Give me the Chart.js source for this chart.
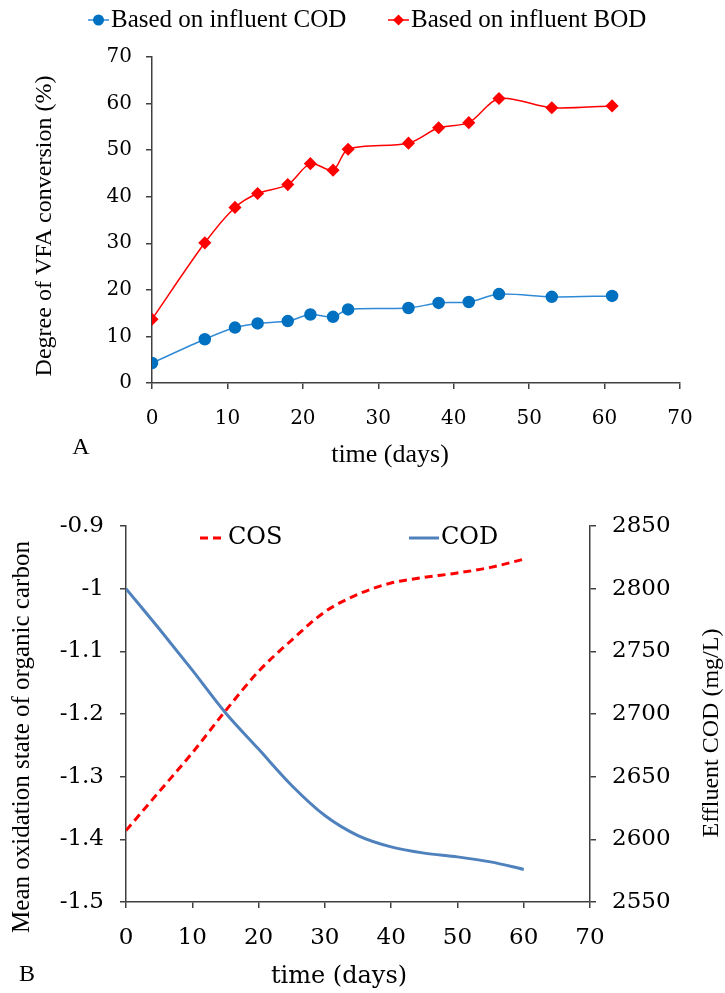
<!DOCTYPE html>
<html>
<head>
<meta charset="utf-8">
<script src="https://cdn.jsdelivr.net/npm/chart.js@4.4.1/dist/chart.umd.min.js"></script>
<style>
  body { margin: 0; background: #fff; }
  #wrap { position: relative; width: 725px; height: 993px; }
  canvas { position: absolute; left: 0; }
  #chartA { top: 0; }
  #chartB { top: 480px; }
</style>
</head>
<body>
<div id="wrap">
  <canvas id="chartA" width="725" height="480"></canvas>
  <canvas id="chartB" width="725" height="513"></canvas>
</div>
<script>
// panel A data
var daysA = [0, 7, 11, 14, 18, 21, 24, 26, 34, 38, 42, 46, 53, 61];
var convCOD = [4.3, 9.4, 11.9, 12.8, 13.3, 14.7, 14.2, 15.8, 16.1, 17.2, 17.4, 19.1, 18.5, 18.7];
var convBOD = [13.7, 30.1, 37.7, 40.7, 42.6, 47.1, 45.7, 50.2, 51.5, 54.8, 55.9, 61.1, 59.1, 59.5];

// panel B data
var daysB = [0, 5, 10, 15, 20, 25, 30, 35, 40, 45, 50, 55, 60];
var cos = [-1.386, -1.324, -1.262, -1.195, -1.132, -1.082, -1.037, -1.009, -0.991, -0.982, -0.975, -0.966, -0.953];
var effCOD = [2800, 2768, 2735, 2701, 2672, 2643, 2619, 2603, 2594, 2589, 2586, 2582, 2576];

var axisColor = "#404040";
var serif = "'Liberation Serif', serif";
var numFont = "'DejaVu Serif', serif";

function pts(xs, ys) {
  return xs.map(function (x, i) { return { x: x, y: ys[i] }; });
}

// draws legend entries and free text (titles, panel letters)
var overlay = {
  id: "overlay",
  afterDraw: function (chart, args, opts) {
    var ctx = chart.ctx;
    ctx.save();
    ctx.textBaseline = "middle";
    (opts.legend || []).forEach(function (item, i) {
      var ds = chart.data.datasets[i];
      ctx.strokeStyle = ds.borderColor;
      ctx.lineWidth = ds.borderWidth;
      ctx.setLineDash(ds.borderDash || []);
      ctx.beginPath();
      ctx.moveTo(item.x, item.y);
      ctx.lineTo(item.x + item.len, item.y);
      ctx.stroke();
      ctx.setLineDash([]);
      var cx = item.x + item.len / 2;
      ctx.fillStyle = ds.pointBackgroundColor;
      if (ds.pointStyle === "circle") {
        ctx.beginPath();
        ctx.arc(cx, item.y, ds.pointRadius, 0, Math.PI * 2);
        ctx.fill();
      } else if (ds.pointStyle === "rectRot") {
        var r = ds.pointRadius;
        ctx.beginPath();
        ctx.moveTo(cx, item.y - r);
        ctx.lineTo(cx + r, item.y);
        ctx.lineTo(cx, item.y + r);
        ctx.lineTo(cx - r, item.y);
        ctx.closePath();
        ctx.fill();
      }
      ctx.fillStyle = "#000";
      ctx.font = item.font;
      ctx.textAlign = "left";
      ctx.fillText(ds.label, item.x + item.len + 2, item.y);
    });
    (opts.texts || []).forEach(function (t) {
      ctx.save();
      ctx.translate(t.x, t.y);
      if (t.rotate) ctx.rotate(t.rotate);
      ctx.fillStyle = "#000";
      ctx.font = t.font;
      ctx.textAlign = "center";
      ctx.fillText(t.text, 0, 0);
      ctx.restore();
    });
    ctx.restore();
  }
};

function axisStyle(extra) {
  var base = {
    type: "linear",
    grid: { display: true, drawOnChartArea: false, tickLength: 6, color: axisColor, lineWidth: 1.5 },
    border: { color: axisColor, width: 1.5 },
    ticks: { color: "#000" }
  };
  return Object.assign(base, extra);
}

function plain(v) { return String(Number(v.toFixed(2))); }

new Chart(document.getElementById("chartA"), {
  type: "line",
  data: {
    datasets: [
      {
        label: "Based on influent COD",
        data: pts(daysA, convCOD),
        borderColor: "#2f8ad6",
        borderWidth: 1.5,
        pointStyle: "circle",
        pointRadius: 5.5,
        pointBackgroundColor: "#0070C0",
        pointBorderColor: "#0070C0",
        tension: 0.3
      },
      {
        label: "Based on influent BOD",
        data: pts(daysA, convBOD),
        borderColor: "#FF0000",
        borderWidth: 1.5,
        pointStyle: "rectRot",
        pointRadius: 5.5,
        pointBackgroundColor: "#FF0000",
        pointBorderColor: "#FF0000",
        tension: 0.3
      }
    ]
  },
  options: {
    responsive: false,
    animation: false,
    layout: { padding: { top: 57, right: 45, left: 0, bottom: 0 } },
    scales: {
      x: axisStyle({
        min: 0, max: 70,
        ticks: { stepSize: 10, color: "#000", padding: 18, font: { family: numFont, size: 20 }, callback: plain },
        afterFit: function (s) { s.height = 97; }
      }),
      y: axisStyle({
        min: 0, max: 70,
        ticks: { stepSize: 10, color: "#000", padding: 14, font: { family: numFont, size: 20 }, callback: plain },
        afterFit: function (s) { s.width = 152; }
      })
    },
    plugins: {
      legend: { display: false },
      tooltip: { enabled: false },
      overlay: {
        legend: [
          { x: 88, y: 20, len: 21, font: "25px " + serif },
          { x: 388, y: 20, len: 21, font: "25px " + serif }
        ],
        texts: [
          { text: "Degree of VFA conversion (%)", x: 45, y: 226, rotate: -Math.PI / 2, font: "24px " + serif },
          { text: "time (days)", x: 390, y: 455, font: "26px " + serif },
          { text: "A", x: 81, y: 448, font: "24px " + serif }
        ]
      }
    }
  },
  plugins: [overlay]
});

new Chart(document.getElementById("chartB"), {
  type: "line",
  data: {
    datasets: [
      {
        label: "COS",
        data: pts(daysB, cos),
        yAxisID: "y",
        borderColor: "#FF0000",
        borderWidth: 3,
        borderDash: [8, 5],
        pointRadius: 0,
        cubicInterpolationMode: "monotone"
      },
      {
        label: "COD",
        data: pts(daysB, effCOD),
        yAxisID: "y1",
        borderColor: "#4F81BD",
        borderWidth: 3,
        pointRadius: 0,
        cubicInterpolationMode: "monotone"
      }
    ]
  },
  options: {
    responsive: false,
    animation: false,
    layout: { padding: { top: 46, right: 0, left: 0, bottom: 0 } },
    scales: {
      x: axisStyle({
        min: 0, max: 70,
        ticks: { stepSize: 10, color: "#000", padding: 16, font: { family: numFont, size: 23 }, callback: plain },
        afterFit: function (s) { s.height = 91; }
      }),
      y: axisStyle({
        position: "left",
        min: -1.5, max: -0.9,
        ticks: { stepSize: 0.1, color: "#000", padding: 16, font: { family: numFont, size: 23 }, callback: plain },
        afterFit: function (s) { s.width = 126; }
      }),
      y1: axisStyle({
        position: "right",
        min: 2550, max: 2850,
        ticks: { stepSize: 50, color: "#000", padding: 16, font: { family: numFont, size: 23 }, callback: plain },
        afterFit: function (s) { s.width = 135; }
      })
    },
    plugins: {
      legend: { display: false },
      tooltip: { enabled: false },
      overlay: {
        legend: [
          { x: 200, y: 58, len: 26, font: "24px " + numFont },
          { x: 409, y: 58, len: 30, font: "24px " + numFont }
        ],
        texts: [
          { text: "Mean oxidation state of organic carbon", x: 22, y: 257, rotate: -Math.PI / 2, font: "25px " + serif },
          { text: "Effluent COD (mg/L)", x: 712, y: 253, rotate: -Math.PI / 2, font: "24px " + serif },
          { text: "time (days)", x: 339, y: 497, font: "24px " + numFont },
          { text: "B", x: 27, y: 495, font: "24px " + serif }
        ]
      }
    }
  },
  plugins: [overlay]
});
</script>
</body>
</html>
